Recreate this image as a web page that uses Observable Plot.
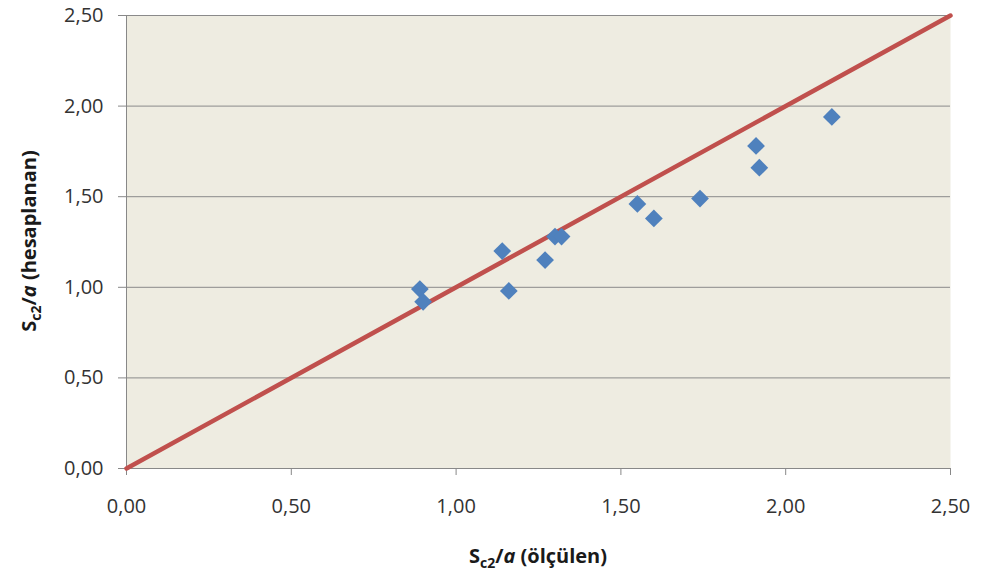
<!DOCTYPE html>
<html>
<head>
<meta charset="utf-8">
<script src="https://cdn.jsdelivr.net/npm/d3@7"></script>
<script src="https://cdn.jsdelivr.net/npm/@observablehq/plot@0.6"></script>
<style>
  body { margin: 0; background: #fff; }
  #chart svg { font-family: "Open Sans", sans-serif; }
</style>
</head>
<body>
<div id="chart"></div>
<script>
// Measured Sc2/a (ölçülen) vs calculated Sc2/a (hesaplanan)
const measured   = [0.89, 0.90, 1.14, 1.16, 1.27, 1.30, 1.32, 1.55, 1.60, 1.74, 1.91, 1.92, 2.14];
const calculated = [0.99, 0.92, 1.20, 0.98, 1.15, 1.28, 1.28, 1.46, 1.38, 1.49, 1.78, 1.66, 1.94];
const lineX = [0, 2.5];
const lineY = [0, 2.5];
const ticks = [0, 0.5, 1, 1.5, 2, 2.5];

const points = measured.map((m, i) => ({x: m, y: calculated[i]}));
const line = lineX.map((v, i) => ({x: v, y: lineY[i]}));
const fmt = d => d.toFixed(2).replace(".", ",");

const plot = Plot.plot({
  width: 982,
  height: 575,
  marginLeft: 126,
  marginRight: 32,
  marginTop: 15,
  marginBottom: 107,
  style: {fontSize: "20px", fontFamily: "Open Sans, sans-serif", background: "#fff"},
  x: {domain: [0, 2.5]},
  y: {domain: [0, 2.5]},
  marks: [
    Plot.frame({fill: "#EEECE1", stroke: null}),
    Plot.gridY(ticks.filter(t => t > 0), {stroke: "#8a8a8a", strokeOpacity: 1, strokeWidth: 1}),
    Plot.axisX({ticks, tickFormat: fmt, tickSize: 7, tickPadding: 23, fontSize: 20, stroke: "#888", color: "#333", label: null}),
    Plot.axisY({ticks, tickFormat: fmt, tickSize: 8, tickPadding: 15, fontSize: 20, stroke: "#888", color: "#333", label: null}),
    Plot.ruleY([0], {stroke: "#888"}),
    Plot.ruleX([0], {stroke: "#888"}),
    Plot.line(line, {x: "x", y: "y", stroke: "#C0504D", strokeWidth: 4.5}),
    Plot.dot(points, {x: "x", y: "y", symbol: "diamond2", r: 8, fill: "#4F81BD", stroke: null})
  ]
});

document.getElementById("chart").appendChild(plot);

// Axis titles with subscripts
const svg = d3.select(plot);
function title(g) {
  g.attr("font-family", "Open Sans, sans-serif").attr("font-weight", "bold").attr("font-size", 20).attr("fill", "#1a1a1a").attr("text-anchor", "middle");
  g.append("tspan").text("S");
  g.append("tspan").attr("font-size", 14).attr("dy", 5).text("c2");
  g.append("tspan").attr("dy", -5).text("/");
  g.append("tspan").attr("font-style", "italic").text("a");
  return g;
}
const xt = title(svg.append("text").attr("x", 538).attr("y", 563));
xt.append("tspan").text(" (ölçülen)");
const yt = title(svg.append("text").attr("transform", "translate(36,241) rotate(-90)"));
yt.append("tspan").text(" (hesaplanan)");
</script>
</body>
</html>
